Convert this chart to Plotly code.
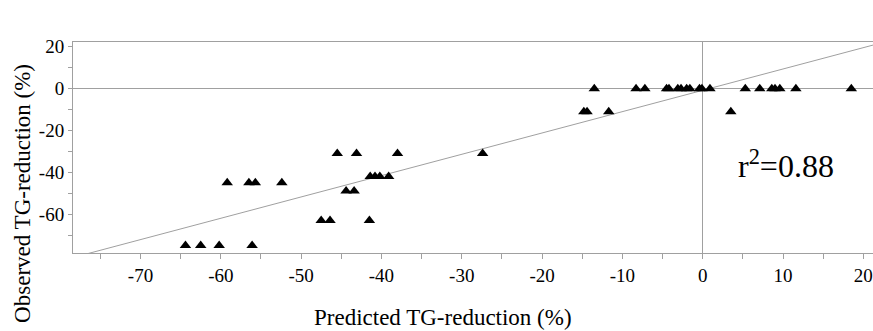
import plotly.graph_objects as go

# Observed vs predicted TG-reduction (%)
predicted = [
    -64.4, -62.5, -60.2, -56.1,
    -59.2, -56.5, -55.7, -52.4,
    -47.5, -46.4, -41.5,
    -44.4, -43.4,
    -41.4, -40.8, -40.2, -39.1,
    -45.5, -43.1, -38.0, -27.4,
    -14.8, -14.4, -11.7, 3.5,
    -13.5, -8.3, -7.2, -4.5, -4.2, -3.1, -2.7, -2.0, -1.6, -0.4, -0.1, 0.9,
    5.3, 7.1, 8.6, 9.0, 9.6, 11.6, 18.5,
]
observed = [
    -75, -75, -75, -75,
    -45, -45, -45, -45,
    -63, -63, -63,
    -49, -49,
    -42, -42, -42, -42,
    -31, -31, -31, -31,
    -11, -11, -11, -11,
    0, 0, 0, 0, 0, 0, 0, 0, 0, 0, 0, 0,
    0, 0, 0, 0, 0, 0, 0,
]

fit_slope = 1.02
fit_intercept = -0.8
r_squared = "0.88"

x_range = [-78.4, 21.2]
y_range = [-78.6, 22.3]

x_tickvals = [-70, -60, -50, -40, -30, -20, -10, 0, 10, 20]
x_ticklabels = ["-70", "-60", "-50", "-40", "-30", "-20", "-10", "0", "10", "20"]
y_tickvals = [-60, -40, -20, 0, 20]
y_ticklabels = ["-60", "-40", "-20", "0", "20"]

fit_x = x_range
fit_y = [fit_slope * v + fit_intercept for v in fit_x]

FONT = "Liberation Serif"
GREY = "#a0a0a0"

fig = go.Figure()
fig.add_trace(go.Scatter(
    x=fit_x, y=fit_y, mode="lines",
    line=dict(color=GREY, width=1), hoverinfo="skip", showlegend=False,
))
fig.add_trace(go.Scatter(
    x=predicted, y=observed, mode="markers",
    marker=dict(symbol="triangle-up", size=10, color="black"),
    showlegend=False,
))

annotations = [
    dict(text="Predicted TG-reduction (%)", xref="paper", yref="paper",
         x=0.4625, y=-0.308, xanchor="center", yanchor="middle",
         showarrow=False, font=dict(family=FONT, size=23, color="black")),
    dict(text="Observed TG-reduction (%)", xref="paper", yref="paper",
         x=-0.064, y=0.284, xanchor="center", yanchor="middle", textangle=-90,
         showarrow=False, font=dict(family=FONT, size=23, color="black")),
    dict(text="r<sup>2</sup>=" + r_squared, xref="paper", yref="paper",
         x=0.891, y=0.422, xanchor="center", yanchor="middle",
         showarrow=False, font=dict(family=FONT, size=32, color="black")),
]

fig.update_layout(
    template="simple_white",
    width=873, height=331,
    margin=dict(l=73, r=0, t=42, b=78),
    paper_bgcolor="white", plot_bgcolor="white",
    font_family=FONT, font_color="black", font_size=19,
    annotations=annotations,
)
fig.update_xaxes(
    range=x_range, tickmode="array", tickvals=x_tickvals, ticktext=x_ticklabels,
    tickfont=dict(family=FONT, size=19, color="black"),
    showgrid=False, zeroline=True, zerolinecolor=GREY, zerolinewidth=1,
    showline=True, linecolor=GREY, linewidth=1, mirror=True,
    ticks="outside", ticklen=5, tickcolor=GREY,
    minor=dict(dtick=5, ticks="outside", ticklen=5, tickcolor=GREY),
)
fig.update_yaxes(
    range=y_range, tickmode="array", tickvals=y_tickvals, ticktext=y_ticklabels,
    tickfont=dict(family=FONT, size=19, color="black"),
    showgrid=False, zeroline=True, zerolinecolor=GREY, zerolinewidth=1,
    showline=True, linecolor=GREY, linewidth=1, mirror=False,
    ticks="outside", ticklen=4, tickcolor=GREY,
    minor=dict(dtick=10, ticks="outside", ticklen=4, tickcolor=GREY),
)

fig.write_html("out.html")
